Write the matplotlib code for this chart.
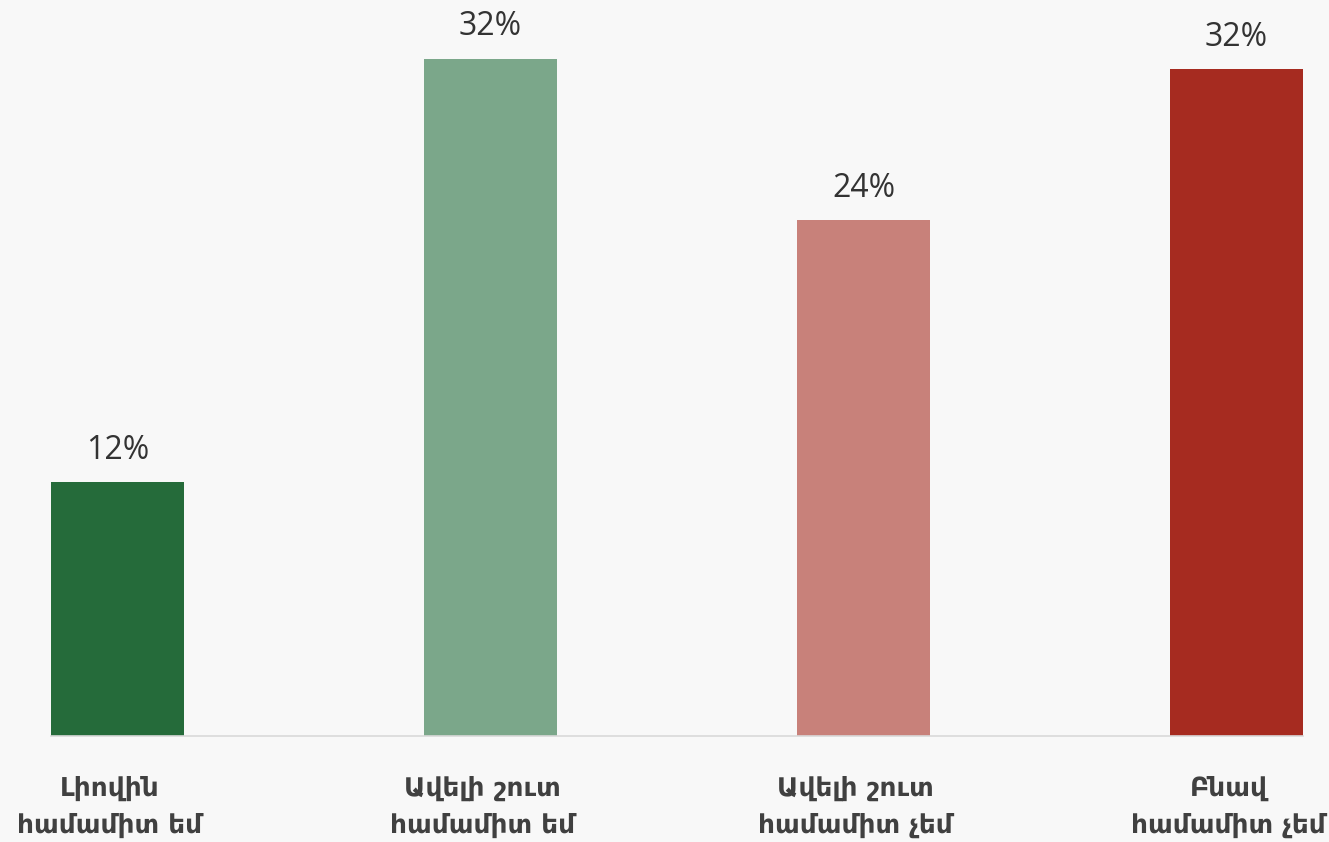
import matplotlib
matplotlib.use("Agg")
from matplotlib import pyplot as plt
from matplotlib.transforms import ScaledTranslation

# Chart data
categories = ["Լիովին\nհամամիտ եմ", "Ավելի շուտ\nհամամիտ եմ",
              "Ավելի շուտ\nհամամիտ չեմ", "Բնավ\nհամամիտ չեմ"]
values = [11.9, 31.8, 24.2, 31.3]
value_labels = ["12%", "32%", "24%", "32%"]
colors = ["#256B3A", "#7BA78A", "#C8817A", "#A62B20"]

bg = "#F8F8F8"
text_color = "#404040"
bar_width = 0.3566

fig = plt.figure(figsize=(13.29, 8.42), dpi=100)
fig.patch.set_facecolor(bg)
ax = fig.add_axes([0.0384, 0.126, 0.9421, 0.874])
ax.set_facecolor(bg)

x = list(range(len(categories)))
bars = ax.bar(x, values, width=bar_width, color=colors, zorder=2)

for xi, v, lab in zip(x, values, value_labels):
    ax.annotate(lab, (xi, v), xytext=(0, 11), textcoords="offset points",
                ha="center", va="bottom", fontsize=23, color="#333333",
                family=["Open Sans", "DejaVu Sans"])

ax.set_xlim(-bar_width / 2, len(categories) - 1 + bar_width / 2)
ax.set_ylim(0, 34.55)

ax.set_xticks(x)
ax.set_xticklabels(categories, fontsize=19, fontweight="bold", color=text_color,
                   family="DejaVu Sans", linespacing=1.55)
ax.tick_params(axis="x", length=0, pad=29)
ax.set_yticks([])

# labels in the reference sit a little left of the bar centres
shift = ScaledTranslation(-8 / 100, 0, fig.dpi_scale_trans)
for t in ax.get_xticklabels():
    t.set_transform(t.get_transform() + shift)

for side in ["top", "left", "right"]:
    ax.spines[side].set_visible(False)
ax.spines["bottom"].set_color("#D9D9D9")
ax.spines["bottom"].set_linewidth(1.2)

fig.savefig("out.png", dpi=100, facecolor=bg)
